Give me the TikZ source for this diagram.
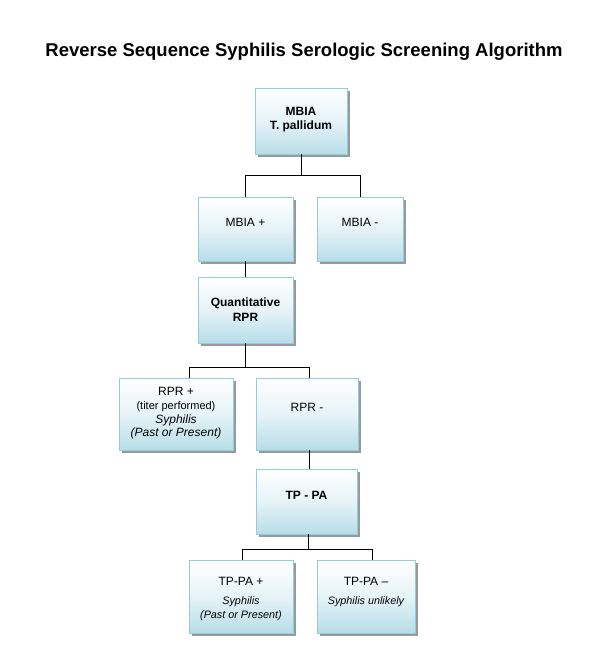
\documentclass[tikz,border=0pt]{standalone}
\usepackage{fontspec}
\setmainfont{Liberation Sans}
\usetikzlibrary{shadows}
\definecolor{bordc}{RGB}{146,205,220}
\definecolor{botc}{RGB}{183,221,232}
\begin{document}
\begin{tikzpicture}[x=1pt,y=-1pt,
  box/.style={draw=bordc, line width=0.8pt, top color=white, bottom color=botc,
    middle color=botc!35!white,
    drop shadow={shadow xshift=2.5pt,shadow yshift=-2.5pt,fill=black!40,opacity=1},
    inner sep=0pt, outer sep=0pt},
  txt/.style={align=center, font=\fontsize{12}{14.3}\selectfont, inner sep=0pt},
  btxt/.style={align=center, font=\fontsize{12}{14.3}\selectfont\bfseries, inner sep=0pt},
  smalltxt/.style={align=center, font=\fontsize{10.8}{14}\selectfont\itshape, inner sep=0pt},
  conn/.style={draw=black, line width=0.8pt}]
\useasboundingbox (0,0) rectangle (589,665);

\node[font=\fontsize{18.5}{20}\selectfont\bfseries, inner sep=0pt] (title) at (304,52)
  {Reverse Sequence Syphilis Serologic Screening Algorithm};

% boxes
\node[box, minimum width=92pt, minimum height=66pt] (top) at (301,121) {};
\node[box, minimum width=95pt, minimum height=64pt] (mbiap) at (245.5,229) {};
\node[box, minimum width=86pt, minimum height=64pt] (mbiam) at (360,229) {};
\node[box, minimum width=95pt, minimum height=66pt] (qrpr) at (245.5,310) {};
\node[box, minimum width=114pt, minimum height=72pt] (rprp) at (176,414) {};
\node[box, minimum width=102pt, minimum height=72pt] (rprm) at (307,414) {};
\node[box, minimum width=101pt, minimum height=65pt] (tppa) at (306.5,501.5) {};
\node[box, minimum width=104pt, minimum height=73pt] (tppap) at (241,596.5) {};
\node[box, minimum width=98pt, minimum height=73pt] (tppam) at (366,596.5) {};

% texts
\node[btxt] (t-top) at (301,119.5) {MBIA\\T. pallidum};
\node[txt] (t-mbiap) at (245.5,222) {MBIA +};
\node[txt] (t-mbiam) at (360,222) {MBIA -};
\node[btxt] (t-qrpr) at (245.5,309.5) {Quantitative\\RPR};
\node[align=center, inner sep=0pt, font=\fontsize{12}{13.7}\selectfont] (t-rprp) at (176,413.5)
  {RPR +\\{\fontsize{11}{13.7}\selectfont (titer performed)}\\\textit{Syphilis}\\\textit{(Past or Present)}};
\node[txt] (t-rprm) at (307,407) {RPR -};
\node[btxt] (t-tppa) at (306.5,495) {TP - PA};
\node[txt] (t-tppap) at (241,581) {TP-PA +};
\node[smalltxt] (t-tppap2) at (241,609) {Syphilis\\(Past or Present)};
\node[txt] (t-tppam) at (366,581) {TP-PA –};
\node[smalltxt] (t-tppam2) at (366,602) {Syphilis unlikely};

% connectors
\coordinate (j1) at (301,175);
\draw[conn] (top.south) -- (j1);
\draw[conn] (j1) -| (mbiap.north);
\draw[conn] (j1) -| (mbiam.north);
\draw[conn] (mbiap.south) -- (qrpr.north);
\coordinate (j2) at (245.5,367);
\draw[conn] (qrpr.south) -- (j2);
\draw[conn] (j2) -| ([xshift=13pt]rprp.north);
\draw[conn] (j2) -| ([xshift=2pt]rprm.north);
\draw[conn] ([xshift=2pt]rprm.south) -- ([xshift=2.5pt]tppa.north);
\coordinate (j3) at (308.5,549);
\draw[conn] ([xshift=2pt]tppa.south) -- (j3);
\draw[conn] (j3) -| ([xshift=1pt]tppap.north);
\draw[conn] (j3) -| ([xshift=6pt]tppam.north);
\end{tikzpicture}
\end{document}
